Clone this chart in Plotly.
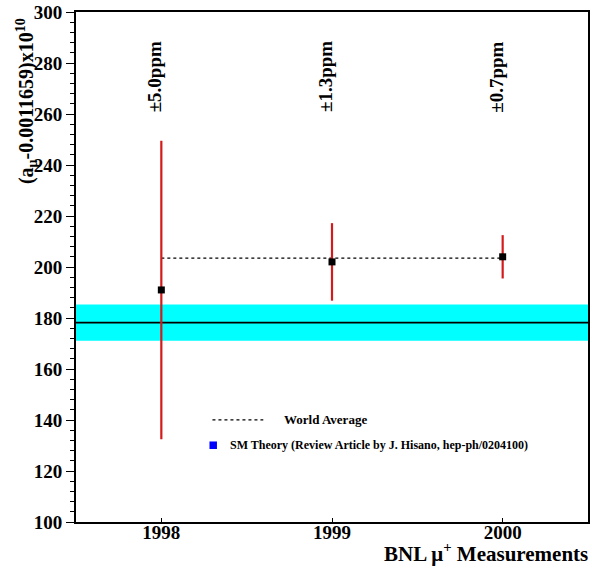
import plotly.graph_objects as go

years = [1998, 1999, 2000]
values = [191.0, 202.0, 204.0]
errors = [58.5, 15.2, 8.5]
ppm_labels = ["±5.0ppm", "±1.3ppm", "±0.7ppm"]
world_avg = 203.5
sm_center = 178.2
sm_err = 7.1
y_ticks = [100, 120, 140, 160, 180, 200, 220, 240, 260, 280, 300]
x_ticks = [1998, 1999, 2000]

FONT = "Liberation Serif"

fig = go.Figure()

# SM theory central line
fig.add_trace(go.Scatter(x=[1997.5, 2000.5], y=[sm_center, sm_center], mode="lines",
                         line=dict(color="black", width=1.8), showlegend=False, hoverinfo="skip"))

# World average dashed line
fig.add_trace(go.Scatter(x=[years[0], years[-1]], y=[world_avg, world_avg], mode="lines",
                         line=dict(color="black", width=1.3, dash="3px,3px"),
                         showlegend=False, hoverinfo="skip"))

# Measurements
fig.add_trace(go.Scatter(x=years, y=values, mode="markers",
                         marker=dict(symbol="square", size=7, color="black"),
                         error_y=dict(type="data", array=errors, color="#d41a1a", thickness=2.2, width=0),
                         showlegend=False))

# SM band
fig.add_shape(type="rect", xref="paper", x0=0, x1=1, yref="y",
              y0=sm_center - sm_err, y1=sm_center + sm_err,
              fillcolor="#00ffff", line=dict(width=0), layer="below")

# ppm labels
for yr, lab in zip(years, ppm_labels):
    fig.add_annotation(x=yr, y=274.5, xref="x", yref="y", text=f"<b>{lab}</b>",
                       textangle=-90, showarrow=False, xshift=-7,
                       font=dict(family=FONT, size=19, color="black"))

# Custom legend
fig.add_shape(type="line", xref="paper", yref="paper", x0=0.2665, x1=0.3658, y0=0.2002, y1=0.2002,
              line=dict(color="black", width=1.3, dash="3px,3px"))
fig.add_annotation(xref="paper", yref="paper", x=0.4021, y=0.2002, text="<b>World Average</b>",
                   showarrow=False, xanchor="left", yanchor="middle",
                   font=dict(family=FONT, size=13, color="black"))
fig.add_shape(type="rect", xref="paper", yref="paper", x0=0.2607, x1=0.2753, y0=0.1431, y1=0.1579,
              fillcolor="#0000ff", line=dict(width=0))
fig.add_annotation(xref="paper", yref="paper", x=0.2977, y=0.1505,
                   text="<b>SM Theory (Review Article by J. Hisano, hep-ph/0204100)</b>",
                   showarrow=False, xanchor="left", yanchor="middle",
                   font=dict(family=FONT, size=12, color="black"))

# Axis titles
fig.add_annotation(xref="paper", yref="paper", x=-0.097, y=0.826,
                   text="<b>(a<sub>μ</sub>-0.0011659)x10<sup>10</sup></b>",
                   textangle=-90, showarrow=False, xanchor="center", yanchor="middle",
                   font=dict(family=FONT, size=20, color="black"))
fig.add_annotation(xref="paper", yref="paper", x=1.0, y=-0.059,
                   text="<b>BNL μ<sup>+</sup> Measurements</b>",
                   showarrow=False, xanchor="right", yanchor="middle", xshift=2,
                   font=dict(family=FONT, size=21, color="black"))

fig.update_layout(
    width=592, height=569,
    margin=dict(l=76, r=2, t=8, b=47),
    paper_bgcolor="white", plot_bgcolor="white",
    showlegend=False,
    xaxis=dict(range=[1997.5, 2000.5], tickvals=x_ticks, ticktext=[f"<b>{t}</b>" for t in x_ticks],
               ticks="inside", ticklen=4, tickcolor="black", tickwidth=1,
               showline=True, linecolor="black", linewidth=2, mirror=True,
               showgrid=False, zeroline=False, ticklabeloverflow="allow",
               ticklabelstandoff=-8,
               tickfont=dict(family=FONT, size=19, color="black")),
    yaxis=dict(range=[100, 300], tickvals=y_ticks, ticktext=[f"<b>{t}</b>" for t in y_ticks],
               ticks="outside", ticklen=8, tickcolor="black", tickwidth=1,
               showline=True, linecolor="black", linewidth=2, mirror=True,
               showgrid=False, zeroline=False, ticklabeloverflow="allow",
               minor=dict(dtick=4, ticks="outside", ticklen=4, tickcolor="black", showgrid=False),
               tickfont=dict(family=FONT, size=19, color="black")),
)

fig.write_html("out.html", config={"displayModeBar": False},
               post_script="document.body.style.margin='0';")
